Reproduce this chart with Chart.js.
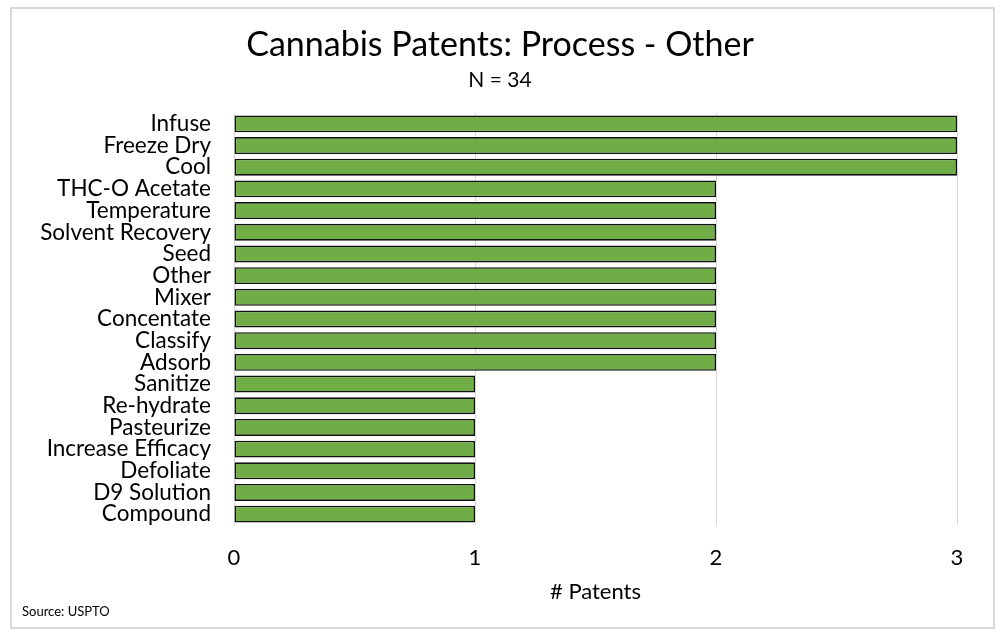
<!DOCTYPE html>
<html>
<head>
<meta charset="utf-8">
<script src="https://cdn.jsdelivr.net/npm/chart.js@4"></script>
<style>
  body { margin: 0; background: #fff; }
  #wrap { position: relative; width: 1000px; height: 636px; }
  #frame { position: absolute; left: 10px; top: 7px; width: 981px; height: 618px; border: 2px solid #d9d9d9; }
  #source { position: absolute; left: 22px; top: 603px; font: 13px Lato, sans-serif; color: #000; }
  canvas { position: absolute; left: 0; top: 0; }
</style>
</head>
<body>
<div id="wrap">
  <div id="frame"></div>
  <canvas id="patentChart" width="1000" height="636"></canvas>
  <div id="source">Source: USPTO</div>
</div>
<script>
const categories = ["Infuse", "Freeze Dry", "Cool", "THC-O Acetate", "Temperature", "Solvent Recovery",
    "Seed", "Other", "Mixer", "Concentate", "Classify", "Adsorb", "Sanitize", "Re-hydrate",
    "Pasteurize", "Increase Efficacy", "Defoliate", "D9 Solution", "Compound"];
const patents = [3, 3, 3, 2, 2, 2, 2, 2, 2, 2, 2, 2, 1, 1, 1, 1, 1, 1, 1];
const xTicks = [0, 1, 2, 3];

document.addEventListener("DOMContentLoaded", function () {
    const ctx = document.getElementById("patentChart").getContext("2d");
    Chart.defaults.font.family = "Lato, sans-serif";
    Chart.defaults.color = "#000";

    new Chart(ctx, {
        type: "bar",
        data: {
            labels: categories,
            datasets: [{
                label: "# Patents",
                data: patents,
                backgroundColor: "#70AD47",
                borderColor: "#111",
                borderWidth: 1.6,
                borderSkipped: false,
                barPercentage: 0.78,
                categoryPercentage: 1.0
            }]
        },
        options: {
            indexAxis: "y",
            responsive: false,
            animation: false,
            layout: { padding: 0 },
            plugins: {
                legend: { display: false },
                tooltip: { enabled: false },
                title: {
                    display: true,
                    text: "Cannabis Patents: Process - Other",
                    font: { size: 34, weight: "normal" },
                    padding: { top: 25, bottom: 2 }
                },
                subtitle: {
                    display: true,
                    text: "N = 34",
                    font: { size: 21 },
                    padding: { top: 0, bottom: 20 }
                }
            },
            scales: {
                x: {
                    min: 0,
                    max: 3,
                    afterBuildTicks: function (axis) {
                        axis.ticks = xTicks.map(v => ({ value: v }));
                    },
                    afterFit: function (axis) { axis.height = 111; },
                    grid: { color: "#d9d9d9", lineWidth: 1, drawTicks: false },
                    border: { display: false },
                    ticks: { font: { size: 22 }, padding: 20 },
                    title: {
                        display: true,
                        text: "# Patents",
                        font: { size: 22 },
                        padding: { top: 0, bottom: 31 }
                    }
                },
                y: {
                    afterFit: function (axis) { axis.width = 234; },
                    grid: { display: false, drawTicks: false },
                    border: { display: false },
                    ticks: { font: { size: 22.5 }, padding: 23, autoSkip: false }
                },
                // empty axis on the right: keeps the plot's right margin without shifting the title
                spacer: {
                    type: "category",
                    position: "right",
                    afterFit: function (axis) { axis.width = 43; },
                    grid: { display: false, drawTicks: false },
                    border: { display: false },
                    ticks: { display: false }
                }
            }
        }
    });
});
</script>
</body>
</html>
